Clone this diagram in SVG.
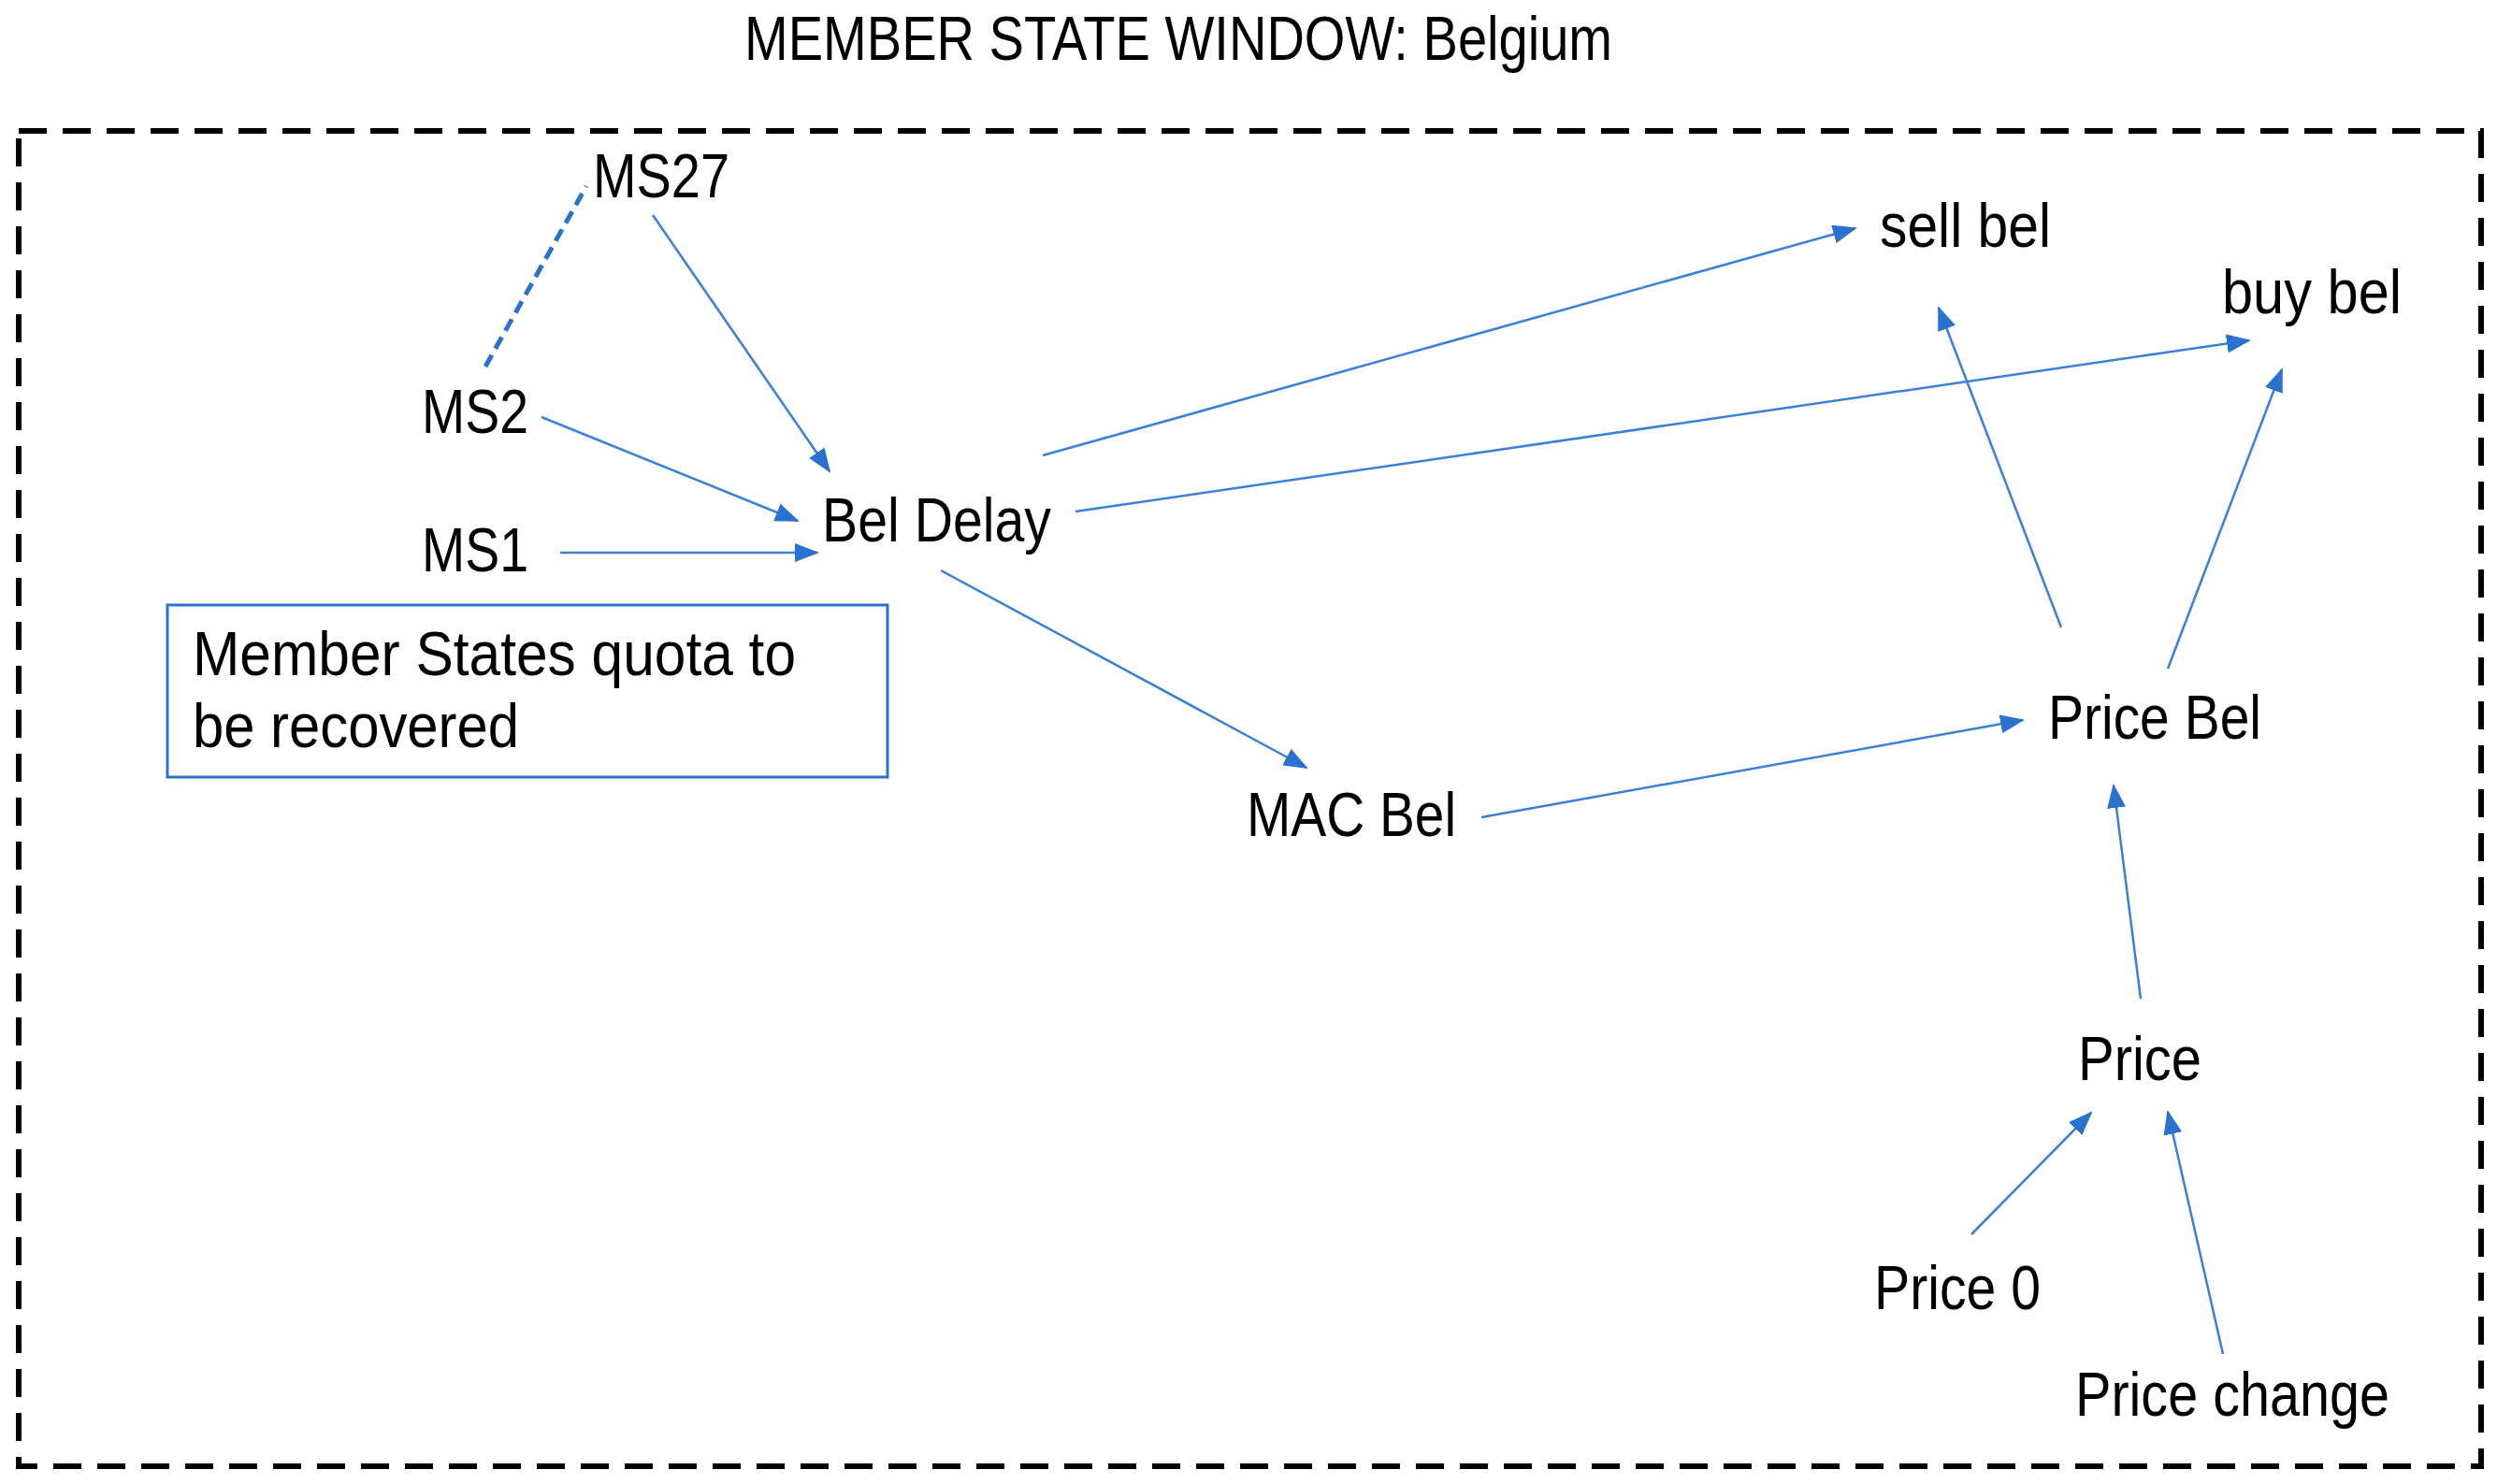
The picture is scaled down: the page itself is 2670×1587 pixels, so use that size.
<svg xmlns="http://www.w3.org/2000/svg" width="2670" height="1587" viewBox="0 0 2670 1587">
<style>
text{font-family:"Liberation Sans",Arial,sans-serif;font-size:66px;fill:#000}
.c{stroke:#3a80d8;stroke-width:2.5;fill:none;marker-end:url(#a)}
</style>
<defs>
<marker id="a" markerUnits="userSpaceOnUse" markerWidth="26" markerHeight="20" refX="24" refY="10" orient="auto"><path d="M0,0 L26,10 L0,20 Z" fill="#2a72d0"/></marker>
</defs>
<rect width="2670" height="1587" fill="#fff"/>
<text x="796" y="64" textLength="928" lengthAdjust="spacingAndGlyphs">MEMBER STATE WINDOW: Belgium</text>
<rect x="20" y="140" width="2633" height="1428" fill="none" stroke="#000" stroke-width="6" stroke-dasharray="30,17"/>
<g id="connectors">
<line x1="519" y1="392" x2="627" y2="199" stroke="#2a72d0" stroke-width="5" stroke-dasharray="14,8"/>
<line class="c" x1="698" y1="230" x2="887" y2="504"/>
<line class="c" x1="579" y1="446" x2="853" y2="557"/>
<line class="c" x1="599" y1="591" x2="874" y2="591"/>
<line class="c" x1="1115" y1="487" x2="1984" y2="244"/>
<line class="c" x1="1150" y1="547" x2="2405" y2="364"/>
<line class="c" x1="1006" y1="610" x2="1397" y2="821"/>
<line class="c" x1="1584" y1="874" x2="2163" y2="770"/>
<line class="c" x1="2204" y1="671" x2="2073" y2="329"/>
<line class="c" x1="2318" y1="715" x2="2440" y2="395"/>
<line class="c" x1="2289" y1="1068" x2="2260" y2="840"/>
<line class="c" x1="2108" y1="1320" x2="2236" y2="1190"/>
<line class="c" x1="2377" y1="1448" x2="2318" y2="1189"/>
</g>
<g id="ms27"><text x="634" y="211" textLength="146" lengthAdjust="spacingAndGlyphs">MS27</text></g>
<g id="ms2"><text x="451" y="463" textLength="114" lengthAdjust="spacingAndGlyphs">MS2</text></g>
<g id="ms1"><text x="451" y="611" textLength="114" lengthAdjust="spacingAndGlyphs">MS1</text></g>
<g id="beldelay"><text x="879" y="579" textLength="245" lengthAdjust="spacingAndGlyphs">Bel Delay</text></g>
<g id="note"><rect x="179" y="647" width="770" height="184" fill="none" stroke="#2a72d0" stroke-width="3"/>
<text x="206" y="722" textLength="645" lengthAdjust="spacingAndGlyphs">Member States quota to</text>
<text x="206" y="799" textLength="349" lengthAdjust="spacingAndGlyphs">be recovered</text></g>
<g id="macbel"><text x="1333" y="894" textLength="224" lengthAdjust="spacingAndGlyphs">MAC Bel</text></g>
<g id="sellbel"><text x="2010" y="264" textLength="183" lengthAdjust="spacingAndGlyphs">sell bel</text></g>
<g id="buybel"><text x="2376" y="335" textLength="192" lengthAdjust="spacingAndGlyphs">buy bel</text></g>
<g id="pricebel"><text x="2190" y="790" textLength="228" lengthAdjust="spacingAndGlyphs">Price Bel</text></g>
<g id="price"><text x="2222" y="1155" textLength="132" lengthAdjust="spacingAndGlyphs">Price</text></g>
<g id="price0"><text x="2004" y="1400" textLength="178" lengthAdjust="spacingAndGlyphs">Price 0</text></g>
<g id="pricechange"><text x="2219" y="1514" textLength="336" lengthAdjust="spacingAndGlyphs">Price change</text></g>
</svg>
